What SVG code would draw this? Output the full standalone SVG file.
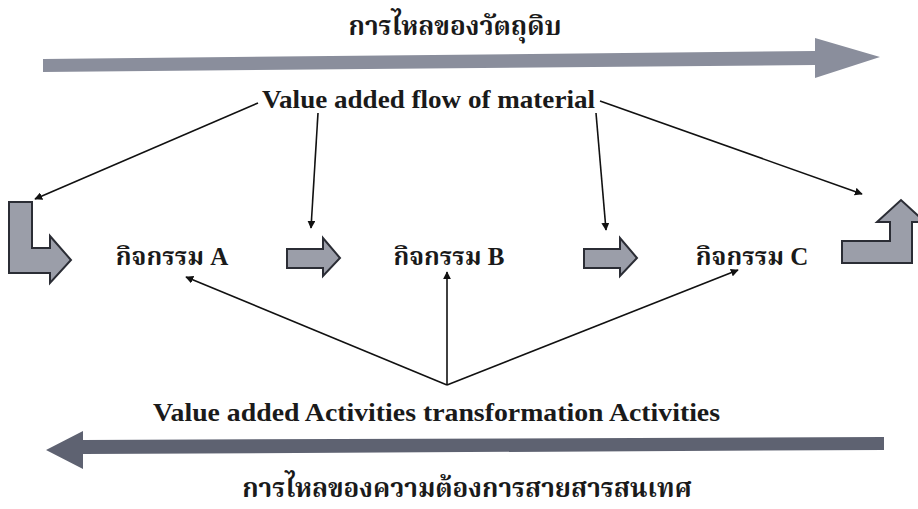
<svg xmlns="http://www.w3.org/2000/svg" width="918" height="509" viewBox="0 0 918 509">
  <style>
    .t { font-family: "Liberation Serif", "Noto Serif Thai", "Noto Sans Thai", serif; font-weight: bold; fill: #1a1a1a; }
    .th { font-size: 26px; }
    .en { font-size: 25px; }
    .node { font-size: 25px; }
    .blk { fill: #9b9ea9; stroke: #2b2d35; stroke-width: 2; }
    .band { stroke: none; }
    .conn line { stroke: #111; stroke-width: 1.6; }
  </style>
  <defs>
    <marker id="ah" viewBox="0 0 10 10" refX="9" refY="5" markerWidth="8" markerHeight="8" markerUnits="userSpaceOnUse" orient="auto">
      <path d="M0,0 L10,5 L0,10 z" fill="#111"/>
    </marker>
  </defs>

  <!-- material flow band (top) -->
  <g id="material-flow">
    <polygon class="band" fill="#8a8e9c" points="43,59 815,51 815,38 880,57 815,78 815,65 43,72"/>
    <text class="t th" x="455" y="35" text-anchor="middle">การไหลของวัตถุดิบ</text>
  </g>

  <!-- information flow band (bottom) -->
  <g id="info-flow">
    <polygon class="band" fill="#5e6271" points="884,437 884,450 83,454 83,469 46,450 83,431 83,440"/>
    <text class="t th" x="467" y="497" text-anchor="middle">การไหลของความต้องการสายสารสนเทศ</text>
  </g>

  <!-- labels -->
  <g id="label-material">
    <text class="t en" x="262" y="108" textLength="333" lengthAdjust="spacingAndGlyphs">Value added flow of material</text>
  </g>
  <g id="label-activities">
    <text class="t en" x="153" y="421" textLength="567" lengthAdjust="spacingAndGlyphs">Value added Activities transformation Activities</text>
  </g>

  <!-- entry / exit block arrows -->
  <g id="entry">
    <polygon class="blk" points="9,202 32,202 32,248 50,248 50,236 71,260 50,283 50,273 9,273"/>
  </g>
  <g id="exit">
    <polygon class="blk" points="842,241 890,241 890,222 877,222 901,200 925,222 912,222 912,263 842,263"/>
  </g>

  <!-- activities -->
  <g id="activity-a">
    <text class="t node" x="172" y="265" text-anchor="middle">กิจกรรม A</text>
  </g>
  <g id="step-ab">
    <polygon class="blk" points="287,249 323,249 323,238 340,258 323,276 323,268 287,268"/>
  </g>
  <g id="activity-b">
    <text class="t node" x="449" y="265" text-anchor="middle">กิจกรรม B</text>
  </g>
  <g id="step-bc">
    <polygon class="blk" points="584,249 620,249 620,238 637,258 620,276 620,268 584,268"/>
  </g>
  <g id="activity-c">
    <text class="t node" x="752" y="265" text-anchor="middle">กิจกรรม C</text>
  </g>

  <!-- connectors -->
  <g class="conn" id="connectors">
    <line x1="258" y1="103" x2="35" y2="199" marker-end="url(#ah)"/>
    <line x1="318" y1="113" x2="311" y2="228" marker-end="url(#ah)"/>
    <line x1="596" y1="113" x2="606" y2="230" marker-end="url(#ah)"/>
    <line x1="600" y1="101" x2="862" y2="194" marker-end="url(#ah)"/>
    <line x1="447" y1="385" x2="186" y2="277" marker-end="url(#ah)"/>
    <line x1="447" y1="385" x2="447" y2="272" marker-end="url(#ah)"/>
    <line x1="447" y1="385" x2="738" y2="270" marker-end="url(#ah)"/>
  </g>
</svg>
